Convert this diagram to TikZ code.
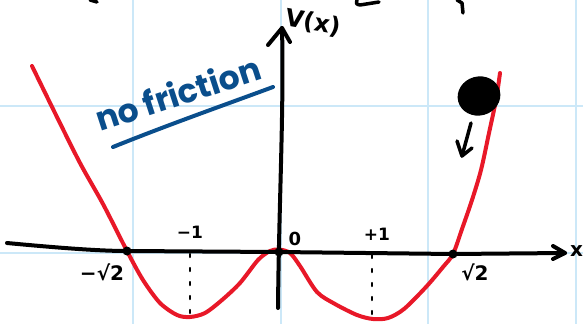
\documentclass[tikz,border=0pt]{standalone}
\usepackage{fontspec}
\usetikzlibrary{shapes.geometric}
\newfontfamily\hand{Poppins}
\newfontfamily\lab{DejaVu Sans}
\definecolor{gridblue}{RGB}{204,232,248}
\definecolor{curvered}{RGB}{232,24,40}
\definecolor{inkblue}{RGB}{10,78,140}
\begin{document}
\begin{tikzpicture}[x=1pt,y=-1pt, line cap=round, line join=round,
  gridline/.style={draw=gridblue, line width=2pt, line cap=butt},
  ink/.style={draw=black, line width=4pt},
  pot/.style={draw=curvered, line width=4pt},
  dotline/.style={draw=black, line width=2.5pt, dash pattern=on 3pt off 11pt},
  crossdot/.style={circle, fill=black, inner sep=0pt, minimum size=9pt},
  ballnode/.style={ellipse, fill=black, inner sep=0pt, minimum width=43pt, minimum height=39pt},
  lbl/.style={font=\lab\bfseries\fontsize{18}{18}\selectfont, inner sep=0pt, text=black},
  handtext/.style={font=\hand\bfseries\fontsize{33}{33}\selectfont, inner sep=0pt, text=inkblue}]
\useasboundingbox (0,0) rectangle (583,324);
\fill[white] (0,0) rectangle (583,324);
% grid
\foreach \gx in {133,280.5,428,575.5} \draw[gridline] (\gx,0) -- (\gx,324);
\foreach \gy in {106,253} \draw[gridline] (0,\gy) -- (583,\gy);
% top fragments
\draw[ink, line width=3.5pt] (90,0) -- (97,2);
\draw[ink, line width=3.5pt] (357,0) .. controls (356,4) .. (360,5) -- (379,2);
\draw[ink, line width=3.5pt] (457,0) .. controls (460,1) .. (462,3) -- (463,13);
% dotted guides
\coordinate (g1t) at (190,254);
\coordinate (g1b) at (190,318);
\coordinate (g2t) at (372,255);
\coordinate (g2b) at (372,319);
\draw[dotline] (g1t) -- (g1b);
\draw[dotline] (g2t) -- (g2b);
% potential curve
\draw[pot] plot[smooth, tension=0.5] coordinates {(32,66) (55,113) (80,163) (103,204) (127,251) (143,280) (160,303) (177,315) (190,317) (205,313) (222,300) (240,283) (258,260) (270,251) (279,249.5) (290,253) (300,266) (317,292) (335,304) (357,315) (373,319) (388,318) (404,309) (426,287) (443,267) (453,254) (462,229) (472,200) (481,170) (489,133) (496,100) (500,73)};
% axes
\node[crossdot] (dl) at (127,251) {};
\node[crossdot] (d0) at (279,252) {};
\node[crossdot] (dr) at (453,254) {};
\coordinate (xstart) at (7,243);
\coordinate (xend) at (565,253);
\coordinate (ybot) at (278,308);
\coordinate (ytop) at (282,28);
\draw[ink] (xstart) .. controls (60,248) and (100,251) .. (dl.center) -- (d0.center) -- (dr.center) -- (xend);
\draw[ink] (553,246) -- (xend) -- (553,259);
\draw[ink] (ybot) .. controls (279,200) and (284,110) .. (ytop);
\draw[ink] (268,45) -- (ytop) -- (290,42);
% ball and arrow
\node[ballnode, rotate=15] (ball) at (479,96) {};
\coordinate (as) at (471,123);
\coordinate (ae) at (462,156);
\draw[ink, line width=3.5pt] (as) -- (ae);
\draw[ink, line width=3.5pt] (457,141) -- (ae) -- (472,148);
% labels
\node[lbl, font=\lab\bfseries\fontsize{20}{20}\selectfont] (lm2) at (102,272) {−√2};
\node[lbl, font=\lab\bfseries\fontsize{20}{20}\selectfont] (l2) at (475,272) {√2};
\node[lbl, font=\lab\bfseries\fontsize{17}{17}\selectfont] (lm1) at (190,232) {−1};
\node[lbl, font=\lab\bfseries\fontsize{18}{18}\selectfont] (l0) at (295,239) {0};
\node[lbl, font=\lab\bfseries\fontsize{17}{17}\selectfont] (lp1) at (377,234) {+1};
\node[lbl, font=\lab\bfseries\fontsize{20}{20}\selectfont, anchor=west] (lx) at (570,251) {x};
\node[lbl, font=\lab\bfseries\fontsize{24}{24}\selectfont, rotate=-10] (lV) at (313,23) {V(x)};
% no friction
\node[handtext, anchor=base west, rotate=18] (nf) at (100,132) {no friction};
\coordinate (ul1) at (113,147);
\coordinate (ul2) at (273,87);
\draw[draw=inkblue, line width=4pt] (ul1) .. controls (170,124) and (230,103) .. (ul2);
\end{tikzpicture}
\end{document}
